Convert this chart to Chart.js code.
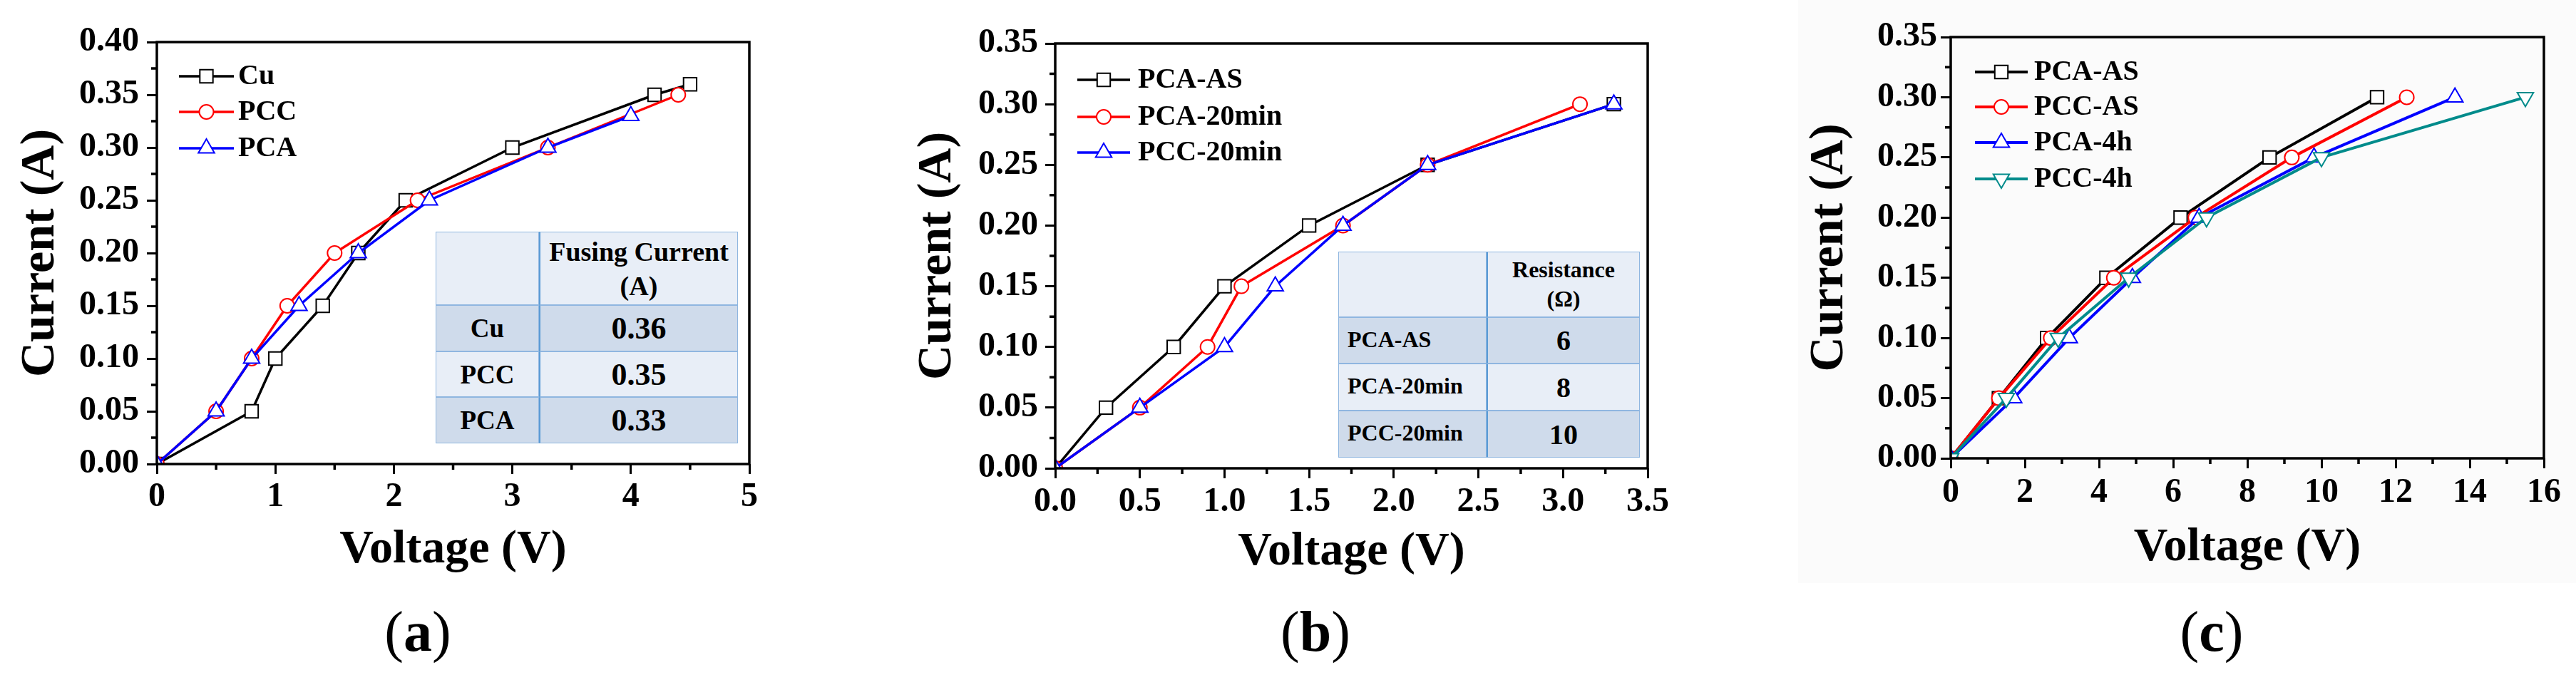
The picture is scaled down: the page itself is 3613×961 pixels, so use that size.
<!DOCTYPE html>
<html>
<head>
<meta charset="utf-8">
<script src="https://cdn.jsdelivr.net/npm/chart.js@4.4.1/dist/chart.umd.min.js"></script>
<style>
html,body{margin:0;padding:0;background:#fff;}
body{width:3613px;height:961px;overflow:hidden;position:relative;font-family:'Liberation Serif','Times New Roman',serif;}
canvas{position:absolute;top:0;}
.cap{position:absolute;font-size:80px;line-height:1;transform:translate(-50%,-50%);white-space:nowrap;color:#000;}
.tbl{position:absolute;}
.cell{position:absolute;box-sizing:border-box;border:1px solid #8fb6e0;display:flex;align-items:center;justify-content:center;font-weight:bold;color:#000;text-align:center;}
.bgc{position:absolute;left:2522px;top:0;width:1091px;height:818px;background:#fbfbfb;}
</style>
</head>
<body>
<div class="bgc"></div>
<script>
// ---------------- DATA ----------------
// Panel (a)
const aCuV  = [0, 0.8, 1.0, 1.4, 1.7, 2.1, 3.0, 4.2, 4.5];
const aCuI  = [0, 0.05, 0.10, 0.15, 0.20, 0.25, 0.30, 0.35, 0.36];
const aPccV = [0, 0.5, 0.8, 1.1, 1.5, 2.2, 3.3, 4.4];
const aPccI = [0, 0.05, 0.10, 0.15, 0.20, 0.25, 0.30, 0.35];
const aPcaV = [0, 0.5, 0.8, 1.2, 1.7, 2.3, 3.3, 4.0];
const aPcaI = [0, 0.05, 0.10, 0.15, 0.20, 0.25, 0.30, 0.33];
const aSeriesNames = ['Cu', 'PCC', 'PCA'];
const aXTicks = [0, 1, 2, 3, 4, 5];
const aYTicks = [0, 0.05, 0.10, 0.15, 0.20, 0.25, 0.30, 0.35, 0.40];
const aTableHeader = ['Fusing Current', '(A)'];
const aTableRows = ['Cu', 'PCC', 'PCA'];
const aTableValues = ['0.36', '0.35', '0.33'];

// Panel (b)
const bAsV  = [0, 0.3, 0.7, 1.0, 1.5, 2.2, 3.3];
const bAsI  = [0, 0.05, 0.10, 0.15, 0.20, 0.25, 0.30];
const bP20V = [0, 0.5, 0.9, 1.1, 1.7, 2.2, 3.1];
const bP20I = [0, 0.05, 0.10, 0.15, 0.20, 0.25, 0.30];
const bC20V = [0, 0.5, 1.0, 1.3, 1.7, 2.2, 3.3];
const bC20I = [0, 0.05, 0.10, 0.15, 0.20, 0.25, 0.30];
const bSeriesNames = ['PCA-AS', 'PCA-20min', 'PCC-20min'];
const bXTicks = [0, 0.5, 1.0, 1.5, 2.0, 2.5, 3.0, 3.5];
const bYTicks = [0, 0.05, 0.10, 0.15, 0.20, 0.25, 0.30, 0.35];
const bTableHeader = ['Resistance', '(\u03A9)'];
const bTableRows = ['PCA-AS', 'PCA-20min', 'PCC-20min'];
const bTableValues = ['6', '8', '10'];

// Panel (c)
const cPcaAsV = [0, 1.3, 2.6, 4.2, 6.2, 8.6, 11.5];
const cPcaAsI = [0, 0.05, 0.10, 0.15, 0.20, 0.25, 0.30];
const cPccAsV = [0, 1.3, 2.7, 4.4, 6.6, 9.2, 12.3];
const cPccAsI = [0, 0.05, 0.10, 0.15, 0.20, 0.25, 0.30];
const cPca4V  = [0, 1.7, 3.2, 4.9, 6.7, 9.8, 13.6];
const cPca4I  = [0, 0.05, 0.10, 0.15, 0.20, 0.25, 0.30];
const cPcc4V  = [0, 1.5, 2.9, 4.8, 6.9, 10.0, 15.5];
const cPcc4I  = [0, 0.05, 0.10, 0.15, 0.20, 0.25, 0.30];
const cSeriesNames = ['PCA-AS', 'PCC-AS', 'PCA-4h', 'PCC-4h'];
const cXTicks = [0, 2, 4, 6, 8, 10, 12, 14, 16];
const cYTicks = [0, 0.05, 0.10, 0.15, 0.20, 0.25, 0.30, 0.35];

const captions = ['a', 'b', 'c'];

// ---------------- STYLE ----------------
const FONT = "'Liberation Serif','Times New Roman',serif";
const STY = {
  black: {color: '#000000', pointStyle: 'rect', radius: 13, rotation: 0},
  red:   {color: '#ff0000', pointStyle: 'circle', radius: 10, rotation: 0},
  blue:  {color: '#0000ff', pointStyle: 'triangle', radius: 13, rotation: 0},
  teal:  {color: '#008b8b', pointStyle: 'triangle', radius: 13, rotation: 180}
};

function pts(xs, ys) { return xs.map((x, i) => ({x: x, y: ys[i]})); }

function drawMarker(ctx, style, r, rot, x, y) {
  ctx.beginPath();
  if (style === 'rect') {
    const s = r * Math.SQRT1_2;
    ctx.rect(x - s, y - s, 2 * s, 2 * s);
  } else if (style === 'circle') {
    ctx.arc(x, y, r, 0, Math.PI * 2);
  } else {
    let rad = rot * Math.PI / 180;
    ctx.moveTo(x + Math.sin(rad) * r, y - Math.cos(rad) * r);
    rad += 2 * Math.PI / 3;
    ctx.lineTo(x + Math.sin(rad) * r, y - Math.cos(rad) * r);
    rad += 2 * Math.PI / 3;
    ctx.lineTo(x + Math.sin(rad) * r, y - Math.cos(rad) * r);
    ctx.closePath();
  }
  ctx.fill();
  ctx.stroke();
}

const framePlugin = {
  id: 'frameMinor',
  afterDraw(chart, args, o) {
    const {ctx, chartArea: ca} = chart;
    const xs = chart.scales.x, ys = chart.scales.y;
    ctx.save();
    ctx.strokeStyle = '#000';
    ctx.lineWidth = o.lw;
    ctx.beginPath();
    const xmaj = o.xMajor, ymaj = o.yMajor;
    for (let k = 0; ; k++) {
      const v = xs.min + k * o.xMinor;
      if (v > xs.max + 1e-9) break;
      if (xmaj.some(m => Math.abs(m - v) < 1e-9)) continue;
      const px = xs.getPixelForValue(v);
      ctx.moveTo(px, ca.bottom); ctx.lineTo(px, ca.bottom + o.minorLen);
    }
    for (let k = 0; ; k++) {
      const v = ys.min + k * o.yMinor;
      if (v > ys.max + 1e-9) break;
      if (ymaj.some(m => Math.abs(m - v) < 1e-9)) continue;
      const py = ys.getPixelForValue(v);
      ctx.moveTo(ca.left, py); ctx.lineTo(ca.left - o.minorLen, py);
    }
    ctx.stroke();
    ctx.strokeRect(ca.left, ca.top, ca.right - ca.left, ca.bottom - ca.top);
    ctx.restore();
  }
};

const legendPlugin = {
  id: 'inLegend',
  afterDraw(chart, args, o) {
    const ctx = chart.ctx;
    ctx.save();
    chart.data.datasets.forEach((ds, i) => {
      const y = o.rows[i];
      ctx.strokeStyle = ds.borderColor;
      ctx.lineWidth = ds.borderWidth;
      ctx.beginPath();
      ctx.moveTo(o.x0, y); ctx.lineTo(o.x1, y);
      ctx.stroke();
      ctx.fillStyle = '#ffffff';
      ctx.lineWidth = ds.pointBorderWidth;
      drawMarker(ctx, ds.pointStyle, ds.pointRadius, ds.pointRotation || 0, (o.x0 + o.x1) / 2, y);
      ctx.fillStyle = '#000';
      ctx.font = 'bold ' + o.size + 'px ' + FONT;
      ctx.textAlign = 'left';
      ctx.textBaseline = 'middle';
      ctx.fillText(ds.label, o.tx, y + 1);
    });
    ctx.restore();
  }
};

function makeDatasets(names, series, styles, lw) {
  const n = series.length;
  return series.map((s, i) => {
    const st = STY[styles[i]];
    return {
      label: names[i],
      data: pts(s[0], s[1]),
      borderColor: st.color,
      backgroundColor: st.color,
      borderWidth: lw,
      pointStyle: st.pointStyle,
      pointRadius: st.radius,
      pointRotation: st.rotation,
      pointBorderWidth: 2,
      pointBorderColor: st.color,
      pointBackgroundColor: '#ffffff',
      tension: 0,
      order: n - i
    };
  });
}

function buildPanel(p) {
  const cv = document.createElement('canvas');
  cv.width = p.cw; cv.height = p.ch;
  cv.style.left = p.cx + 'px';
  cv.style.width = p.cw + 'px';
  cv.style.height = p.ch + 'px';
  document.body.appendChild(cv);
  const tickLen = 14, tickSize = 48, tickLH = tickSize * 1.2;
  const yTS = 68, xTS = 66;
  const padLeft = p.yTitleCX - p.cx - yTS * 1.2 / 2;
  const yWidth = p.area.l - p.cx - padLeft;
  const xBottom = p.xTitleCY + xTS * 1.2 / 2;
  const padBottom = p.ch - xBottom;
  const xHeight = xBottom - p.area.b;
  const yPad = p.area.l - tickLen - p.yLabelRight;
  const xPad = p.xLabelCY - p.area.b - tickLen - tickLH / 2;
  const loc = v => v - p.cx;

  new Chart(cv, {
    type: 'line',
    data: {datasets: p.datasets},
    options: {
      responsive: false,
      animation: false,
      devicePixelRatio: 1,
      events: [],
      layout: {padding: {left: padLeft, right: p.cx + p.cw - p.area.r, top: p.area.t, bottom: padBottom}},
      plugins: {
        legend: {display: false},
        tooltip: {enabled: false},
        frameMinor: {lw: 3.5, minorLen: 8, xMinor: p.xMinor, yMinor: 0.025, xMajor: p.xTicks, yMajor: p.yTicks},
        inLegend: {x0: loc(p.leg.x0), x1: loc(p.leg.x1), tx: loc(p.leg.tx), rows: p.leg.rows, size: 40}
      },
      scales: {
        x: {
          type: 'linear', min: p.xTicks[0], max: p.xTicks[p.xTicks.length - 1],
          afterBuildTicks: s => { s.ticks = p.xTicks.map(v => ({value: v})); },
          afterFit: s => { s.height = xHeight; },
          border: {display: false},
          grid: {drawOnChartArea: false, drawTicks: true, tickLength: tickLen, lineWidth: 3, color: '#000', tickColor: '#000'},
          ticks: {color: '#000', padding: xPad, maxRotation: 0, autoSkip: false,
                  font: {family: FONT, size: tickSize, weight: 'bold', lineHeight: 1.2},
                  callback: v => p.xFmt(v)},
          title: {display: true, text: 'Voltage (V)', color: '#000', padding: 0,
                  font: {family: FONT, size: xTS, weight: 'bold', lineHeight: 1.2}}
        },
        y: {
          type: 'linear', min: p.yTicks[0], max: p.yTicks[p.yTicks.length - 1],
          afterBuildTicks: s => { s.ticks = p.yTicks.map(v => ({value: v})); },
          afterFit: s => { s.width = yWidth; },
          border: {display: false},
          grid: {drawOnChartArea: false, drawTicks: true, tickLength: tickLen, lineWidth: 3, color: '#000', tickColor: '#000'},
          ticks: {color: '#000', padding: yPad, autoSkip: false,
                  font: {family: FONT, size: tickSize, weight: 'bold', lineHeight: 1.2},
                  callback: v => Number(v).toFixed(2)},
          title: {display: true, text: 'Current (A)', color: '#000', padding: 0,
                  font: {family: FONT, size: yTS, weight: 'bold', lineHeight: 1.2}}
        }
      }
    },
    plugins: [framePlugin, legendPlugin]
  });
}

function buildTable(t) {
  const box = document.createElement('div');
  box.className = 'tbl';
  box.style.left = t.cols[0] + 'px';
  box.style.top = t.rows[0] + 'px';
  document.body.appendChild(box);
  const light = '#e8eef7', dark = '#cfdbeb';
  const cell = (r, c, html, bg, css) => {
    const d = document.createElement('div');
    d.className = 'cell';
    d.style.left = (t.cols[c] - t.cols[0]) + 'px';
    d.style.top = (t.rows[r] - t.rows[0]) + 'px';
    d.style.width = (t.cols[c + 1] - t.cols[c]) + 'px';
    d.style.height = (t.rows[r + 1] - t.rows[r]) + 'px';
    d.style.background = bg;
    if (c === 1) d.style.borderLeft = '2px solid #5b9bd5';
    Object.assign(d.style, css || {});
    d.innerHTML = html;
    box.appendChild(d);
  };
  cell(0, 0, '', light);
  cell(0, 1, t.header.join('<br>'), light, {fontSize: t.hSize + 'px', lineHeight: t.hLH + 'px'});
  t.labels.forEach((lab, i) => {
    const bg = i % 2 === 0 ? dark : light;
    cell(i + 1, 0, lab, bg, Object.assign({fontSize: t.lSize + 'px'}, t.lCss || {}));
    cell(i + 1, 1, t.values[i], bg, {fontSize: t.vSize + 'px'});
  });
}

function caption(letter, x, y) {
  const d = document.createElement('div');
  d.className = 'cap';
  d.style.left = x + 'px';
  d.style.top = y + 'px';
  d.innerHTML = '(<b>' + letter + '</b>)';
  document.body.appendChild(d);
}

function build() {
  buildPanel({
    cx: 0, cw: 1180, ch: 840,
    area: {l: 220, r: 1051, t: 59, b: 651},
    yTitleCX: 57, xTitleCY: 772, yLabelRight: 195, xLabelCY: 698,
    xTicks: aXTicks, yTicks: aYTicks, xMinor: 0.5, xFmt: v => String(v),
    leg: {x0: 251, x1: 328, tx: 334, rows: [107, 157, 208]},
    datasets: makeDatasets(aSeriesNames, [[aCuV, aCuI], [aPccV, aPccI], [aPcaV, aPcaI]], ['black', 'red', 'blue'], 3.5)
  });
  buildPanel({
    cx: 1190, cw: 1220, ch: 840,
    area: {l: 1480, r: 2311, t: 61, b: 657},
    yTitleCX: 1315, xTitleCY: 775, yLabelRight: 1456, xLabelCY: 705,
    xTicks: bXTicks, yTicks: bYTicks, xMinor: 0.25, xFmt: v => Number(v).toFixed(1),
    leg: {x0: 1511, x1: 1585, tx: 1596, rows: [112, 164, 214]},
    datasets: makeDatasets(bSeriesNames, [[bAsV, bAsI], [bP20V, bP20I], [bC20V, bC20I]], ['black', 'red', 'blue'], 3.5)
  });
  buildPanel({
    cx: 2440, cw: 1173, ch: 840,
    area: {l: 2736, r: 3568, t: 52, b: 643},
    yTitleCX: 2566, xTitleCY: 769, yLabelRight: 2717, xLabelCY: 692,
    xTicks: cXTicks, yTicks: cYTicks, xMinor: 1, xFmt: v => String(v),
    leg: {x0: 2770, x1: 2844, tx: 2853, rows: [101, 150, 200, 251]},
    datasets: makeDatasets(cSeriesNames, [[cPcaAsV, cPcaAsI], [cPccAsV, cPccAsI], [cPca4V, cPca4I], [cPcc4V, cPcc4I]], ['black', 'red', 'blue', 'teal'], 4)
  });
  buildTable({cols: [611, 756, 1035], rows: [325, 428, 493, 557, 622],
    header: aTableHeader, labels: aTableRows, values: aTableValues,
    hSize: 38, hLH: 48, lSize: 37, vSize: 44});
  buildTable({cols: [1877, 2085, 2300], rows: [353, 445, 510, 576, 642],
    header: bTableHeader, labels: bTableRows, values: bTableValues,
    hSize: 32, hLH: 41, lSize: 32, vSize: 40,
    lCss: {justifyContent: 'flex-start', paddingLeft: '12px', alignItems: 'flex-start', paddingTop: '12px'}});
  caption(captions[0], 586, 886);
  caption(captions[1], 1845, 886);
  caption(captions[2], 3102, 886);
}

if (document.fonts && document.fonts.load) {
  Promise.all([
    document.fonts.load("bold 48px 'Liberation Serif'"),
    document.fonts.load("48px 'Liberation Serif'")
  ]).then(build, build);
} else {
  build();
}
</script>
</body>
</html>
